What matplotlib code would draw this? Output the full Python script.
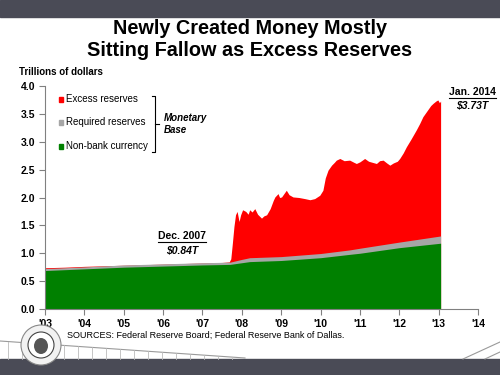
import numpy as np
import matplotlib
matplotlib.use("Agg")
import matplotlib.pyplot as plt
from matplotlib.patches import Rectangle, Ellipse
from matplotlib.lines import Line2D

plt.rcParams['font.family'] = ['Liberation Sans', 'DejaVu Sans']

# --- data (trillions of dollars) ---
# currency and required reserves share the same dates
base_years = [2003.0, 2004.0, 2005.0, 2006.0, 2007.0, 2007.7, 2008.0, 2008.2,
              2009.0, 2010.0, 2010.74, 2011.0, 2012.0, 2013.05]
currency = [0.69, 0.72, 0.75, 0.77, 0.79, 0.80, 0.83, 0.85,
            0.87, 0.92, 0.98, 1.00, 1.10, 1.18]
required = [0.035, 0.035, 0.04, 0.04, 0.04, 0.04, 0.06, 0.07,
            0.07, 0.075, 0.08, 0.09, 0.10, 0.13]

# total monetary base (top of excess reserves)
total_years = [2003.0, 2003.5, 2004.0, 2004.5, 2005.0, 2005.5, 2006.0, 2006.5,
               2007.0, 2007.5, 2007.68, 2007.72, 2007.76, 2007.80, 2007.84,
               2007.88, 2007.93, 2007.97, 2008.02, 2008.10, 2008.16, 2008.20,
               2008.26, 2008.33, 2008.40, 2008.50, 2008.56, 2008.63, 2008.72,
               2008.80, 2008.84, 2008.92, 2008.96, 2009.01, 2009.08, 2009.13,
               2009.20, 2009.30, 2009.45, 2009.60, 2009.73, 2009.85, 2009.98,
               2010.06, 2010.12, 2010.19, 2010.28, 2010.35, 2010.40, 2010.49,
               2010.60, 2010.74, 2010.85, 2010.91, 2011.00, 2011.12, 2011.22,
               2011.32, 2011.42, 2011.50, 2011.59, 2011.68, 2011.76, 2011.85,
               2011.95, 2012.01, 2012.10, 2012.18, 2012.30, 2012.43, 2012.52,
               2012.60, 2012.70, 2012.80, 2012.86, 2012.93, 2012.98, 2013.02,
               2013.05]
total = [0.74, 0.75, 0.765, 0.775, 0.785, 0.795, 0.805, 0.815,
         0.825, 0.835, 0.845, 0.90, 1.18, 1.48, 1.69,
         1.75, 1.57, 1.69, 1.78, 1.75, 1.70, 1.78,
         1.74, 1.80, 1.70, 1.63, 1.67, 1.69, 1.80,
         1.95, 2.01, 2.07, 2.00, 2.01, 2.08, 2.13,
         2.05, 2.01, 2.00, 1.98, 1.96, 1.98, 2.04,
         2.13, 2.35, 2.49, 2.58, 2.63, 2.67, 2.70,
         2.66, 2.67, 2.63, 2.61, 2.64, 2.70, 2.65,
         2.63, 2.61, 2.66, 2.67, 2.62, 2.58, 2.62,
         2.65, 2.70, 2.80, 2.91, 3.05, 3.21, 3.33,
         3.45, 3.55, 3.65, 3.69, 3.73, 3.75, 3.70,
         3.73]

tick_years = list(range(2003, 2015))
tick_labels = ["'03", "'04", "'05", "'06", "'07", "'08", "'09", "'10",
               "'11", "'12", "'13", "'14"]
legend_labels = ["Excess reserves", "Required reserves", "Non-bank currency"]

RED = "#FF0000"
GRAY = "#A6A6A6"
GREEN = "#008000"
DARK = "#4A4B56"

fig = plt.figure(figsize=(5, 3.75), dpi=100)
fig.patch.set_facecolor("white")

# slide decorations
fig.add_artist(Rectangle((0, 1 - 17 / 375), 1, 17 / 375, transform=fig.transFigure,
                         color=DARK, zorder=0))
fig.add_artist(Rectangle((0, 0), 1, 16 / 375, transform=fig.transFigure,
                         color=DARK, zorder=0))
fig.add_artist(Line2D([0, 0.49], [1 - 341 / 375, 1 - 358 / 375],
                      transform=fig.transFigure, color="#9A9A9A", lw=0.8))
for px in range(8, 245, 14):
    ytop = 341 + 17 * px / 245
    fig.add_artist(Line2D([px / 500, px / 500], [1 - ytop / 375, 1 - 359 / 375],
                          transform=fig.transFigure, color="#BBBBBB", lw=0.6))
fig.add_artist(Line2D([463 / 500, 1], [1 - 359 / 375, 1 - 342 / 375],
                      transform=fig.transFigure, color="#9A9A9A", lw=0.8))
fig.add_artist(Line2D([485 / 500, 1], [1 - 359 / 375, 1 - 352 / 375],
                      transform=fig.transFigure, color="#9A9A9A", lw=0.8))
fig.add_artist(Ellipse((41 / 500, 1 - 345 / 375), 40 / 500, 40 / 375,
                       transform=fig.transFigure, facecolor="#F2F2F2",
                       edgecolor="#888888", lw=0.8, zorder=3))
fig.add_artist(Ellipse((41 / 500, 1 - 345 / 375), 26 / 500, 26 / 375,
                       transform=fig.transFigure, facecolor="#FFFFFF",
                       edgecolor="#444444", lw=0.8, zorder=4))
fig.add_artist(Ellipse((41 / 500, 1 - 346 / 375), 14 / 500, 16 / 375,
                       transform=fig.transFigure, facecolor="#555555",
                       edgecolor="none", zorder=5))

ax = fig.add_axes([45 / 500, 1 - 309 / 375, 433 / 500, 223 / 375])

base_top = np.array(currency) + np.array(required)
ax.fill_between(total_years, 0, total, color=RED, lw=0)
ax.fill_between(base_years, 0, base_top, color=GRAY, lw=0)
ax.fill_between(base_years, 0, currency, color=GREEN, lw=0)

ax.set_xlim(2003, 2014)
ax.set_ylim(0, 4)
ax.set_xticks(tick_years)
ax.set_xticklabels(tick_labels)
ax.set_yticks(np.arange(0, 4.01, 0.5))
ax.set_yticklabels([f"{v:.1f}" for v in np.arange(0, 4.01, 0.5)])
for lab in ax.get_xticklabels() + ax.get_yticklabels():
    lab.set_fontweight("bold")
    lab.set_fontsize(7.5)
ax.tick_params(axis="both", color="#808080", length=4, width=0.8, pad=3)
for s in ["top", "right"]:
    ax.spines[s].set_visible(False)
for s in ["left", "bottom"]:
    ax.spines[s].set_color("#808080")
    ax.spines[s].set_linewidth(0.8)

# title and labels
fig.text(0.5, 1 - 29 / 375, "Newly Created Money Mostly", ha="center", va="center",
         fontsize=14.3, fontweight="bold")
fig.text(0.5, 1 - 50 / 375, "Sitting Fallow as Excess Reserves", ha="center",
         va="center", fontsize=14.3, fontweight="bold")
fig.text(19 / 500, 1 - 72 / 375, "Trillions of dollars", ha="left", va="center",
         fontsize=7, fontweight="bold")

# legend
legend_colors = [RED, GRAY, GREEN]
legend_ys = [99, 122, 146]
for lab, col, yy in zip(legend_labels, legend_colors, legend_ys):
    fig.add_artist(Rectangle((58.5 / 500, 1 - (yy + 2.5) / 375), 4.5 / 500, 4.5 / 375,
                             transform=fig.transFigure, color=col))
    fig.text(66 / 500, 1 - yy / 375, lab, ha="left", va="center", fontsize=7)
bx = 155 / 500
fig.add_artist(Line2D([bx - 3 / 500, bx, bx, bx - 3 / 500],
                      [1 - 96 / 375, 1 - 96 / 375, 1 - 152 / 375, 1 - 152 / 375],
                      transform=fig.transFigure, color="black", lw=0.8))
fig.add_artist(Line2D([bx, bx + 4 / 500], [1 - 124 / 375, 1 - 124 / 375],
                      transform=fig.transFigure, color="black", lw=0.8))
fig.text(164 / 500, 1 - 124 / 375, "Monetary\nBase", ha="left", va="center",
         fontsize=7, fontweight="bold", style="italic", linespacing=1.2)

# annotations
fig.text(182 / 500, 1 - 236 / 375, "Dec. 2007", ha="center", va="center",
         fontsize=7.5, fontweight="bold")
fig.add_artist(Line2D([158 / 500, 206 / 500], [1 - 242 / 375, 1 - 242 / 375],
                      transform=fig.transFigure, color="black", lw=0.8))
fig.text(182 / 500, 1 - 250 / 375, r"\$0.84T", ha="center", va="center",
         fontsize=7.5, fontweight="bold", style="italic")
fig.text(472 / 500, 1 - 92 / 375, "Jan. 2014", ha="center", va="center",
         fontsize=7.5, fontweight="bold")
fig.add_artist(Line2D([449 / 500, 496 / 500], [1 - 98 / 375, 1 - 98 / 375],
                      transform=fig.transFigure, color="black", lw=0.8))
fig.text(472 / 500, 1 - 105 / 375, r"\$3.73T", ha="center", va="center",
         fontsize=7.5, fontweight="bold", style="italic")

fig.text(67 / 500, 1 - 335 / 375,
         "SOURCES: Federal Reserve Board; Federal Reserve Bank of Dallas.",
         ha="left", va="center", fontsize=6.5)

fig.savefig("out.png", dpi=100)
